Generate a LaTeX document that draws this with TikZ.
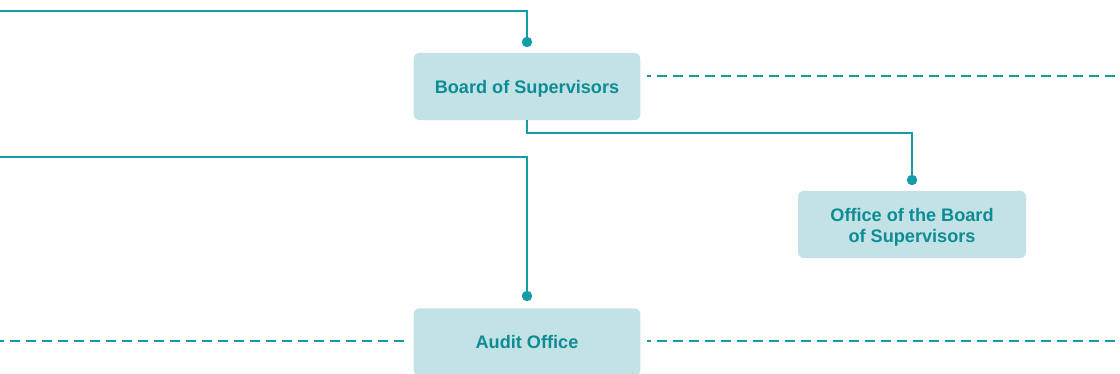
\documentclass[tikz,border=0pt]{standalone}
\usepackage{fontspec}
\setmainfont{Liberation Sans}
\definecolor{teal1}{HTML}{149DA8}
\definecolor{boxfill}{HTML}{C3E2E5}
\definecolor{txt}{HTML}{0E8C96}
\begin{document}
\begin{tikzpicture}[x=0.75pt,y=-0.75pt,
  orgfont/.style={text=txt,font=\fontsize{13.6}{15.8}\selectfont\bfseries},
  orgbox/.style={draw=none,fill=boxfill,rounded corners=4.5pt,minimum width=170pt,minimum height=50.5pt,
    inner sep=0pt,align=center,orgfont},
  conn/.style={draw=teal1,line width=1.3pt},
  dashconn/.style={draw=teal1,line width=1.3pt,dash pattern=on 7.5pt off 4.5pt,dash phase=4.5pt},
  enddot/.style={fill=teal1,draw=none}]
\useasboundingbox (0,0) rectangle (1120,374);
\node[orgbox,text depth=0pt] (board) at (527,86.5) {Board of Supervisors};
\node[orgbox,minimum width=171pt,
  label={[orgfont,align=center,inner sep=0pt,yshift=-2pt]center:Office of the Board\\of Supervisors}]
  (office) at (912,224.5) {};
\node[orgbox,text depth=0pt] (audit) at (527,342) {Audit Office};
% top line into board
\coordinate (tl) at (0,11);
\coordinate (bd) at (527,42);
\draw[conn] (tl) -| (bd);
\fill[enddot] (bd) circle (3.9pt);
% board to office
\coordinate (od) at (912,180);
\draw[conn] (board.south) |- (912,133) -- (od);
\fill[enddot] (od) circle (3.9pt);
% left line into audit
\coordinate (ml) at (0,157);
\coordinate (ad) at (527,296);
\draw[conn] (ml) -| (ad);
\fill[enddot] (ad) circle (3.9pt);
% dashed lines
\coordinate (br) at (1130,76);
\draw[dashconn] ([xshift=5pt]board.east |- br) -- (br);
\coordinate (al) at (0,341);
\coordinate (ar) at (1130,341);
\draw[dashconn] (al) -- ([xshift=-5pt]audit.west |- al);
\draw[dashconn] ([xshift=5pt]audit.east |- ar) -- (ar);
\end{tikzpicture}
\end{document}
